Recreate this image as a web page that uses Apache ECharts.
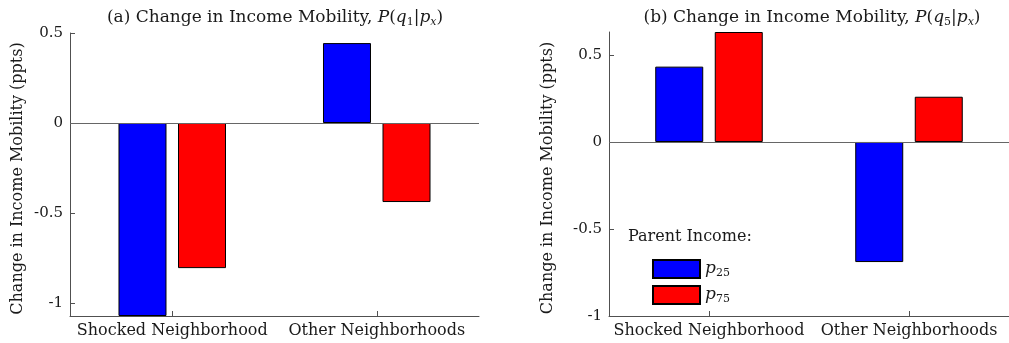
<!DOCTYPE html>
<html>
<head>
<meta charset="utf-8">
<script src="https://cdn.jsdelivr.net/npm/echarts@6/dist/echarts.min.js"></script>
<style>
  html, body { margin: 0; padding: 0; background: #fff; }
  #chart { width: 1009px; height: 343px; }
</style>
</head>
<body>
<div id="chart"></div>
<script>
// Neighborhood groups on the horizontal axis
const categories = ['Shocked Neighborhood', 'Other Neighborhoods'];

// Panel (a): change in P(q1 | px), percentage points
const q1P25 = [-1.072, 0.444];
const q1P75 = [-0.806, -0.439];

// Panel (b): change in P(q5 | px), percentage points
const q5P25 = [0.433, -0.69];
const q5P75 = [0.632, 0.26];

// Vertical axis limits and tick marks
const yRangeA = [-1.072, 0.5];
const yRangeB = [-1, 0.632];
const yTicks = [-1, -0.5, 0, 0.5];

const FONT = '"DejaVu Serif", serif';
const AXIS_COLOR = '#505050';
const TEXT_COLOR = '#1a1a1a';
const BLUE = '#0000ff';
const RED = '#ff0000';

const base = { fontFamily: FONT, fontWeight: 'normal', color: TEXT_COLOR, lineHeight: 24 };
const richMath = {
  t: Object.assign({}, base, { fontSize: 17, verticalAlign: 'middle' }),
  i: Object.assign({}, base, { fontSize: 17, fontStyle: 'italic', verticalAlign: 'middle' }),
  s: Object.assign({}, base, { fontSize: 11, verticalAlign: 'bottom', padding: [0, 0, 2, 0] }),
  si: Object.assign({}, base, { fontSize: 11, fontStyle: 'italic', verticalAlign: 'bottom', padding: [0, 0, 2, 0] })
};

function panelTitle(tag, q) {
  return '{t|(' + tag + ') Change in Income Mobility, }{i|P}{t|(}{i|q}{s|' + q + '}{t||}{i|p}{si|x}{t|)}';
}

function xAxisFor(gridIndex) {
  return {
    type: 'category',
    gridIndex: gridIndex,
    data: categories,
    boundaryGap: true,
    axisLine: { show: true, onZero: false, lineStyle: { color: AXIS_COLOR, width: 1 } },
    axisTick: { show: true, inside: true, length: 5, alignWithLabel: true, lineStyle: { color: AXIS_COLOR } },
    axisLabel: { interval: 0, fontFamily: FONT, fontSize: 16, color: TEXT_COLOR, margin: 7 },
    splitLine: { show: false }
  };
}

function yAxisFor(gridIndex, range, gap) {
  return {
    type: 'value',
    gridIndex: gridIndex,
    min: range[0],
    max: range[1],
    name: 'Change in Income Mobility (ppts)',
    nameLocation: 'middle',
    nameGap: gap,
    nameTextStyle: { fontFamily: FONT, fontSize: 16, fontWeight: 'normal', color: TEXT_COLOR, padding: [0, 8, 0, 0] },
    axisLine: { show: true, lineStyle: { color: AXIS_COLOR, width: 1 } },
    axisTick: { show: true, inside: true, length: 5, customValues: yTicks, lineStyle: { color: AXIS_COLOR } },
    axisLabel: {
      fontFamily: FONT, fontSize: 15, color: TEXT_COLOR, margin: 7,
      customValues: yTicks,
      formatter: v => (v === 0 ? '0' : String(v))
    },
    splitLine: { show: false }
  };
}

function zeroLine() {
  return {
    silent: true,
    symbol: ['none', 'none'],
    label: { show: false },
    lineStyle: { color: '#666', width: 1, type: 'solid' },
    data: [{ yAxis: 0 }]
  };
}

function barSeries(name, data, idx, color, withBaseline) {
  const s = {
    name: name,
    type: 'bar',
    xAxisIndex: idx,
    yAxisIndex: idx,
    data: data,
    barWidth: 48,
    barGap: '24%',
    itemStyle: { color: color, borderColor: '#000', borderWidth: 1 }
  };
  if (withBaseline) s.markLine = zeroLine();
  return s;
}

const chart = echarts.init(document.getElementById('chart'), null, { renderer: 'canvas' });

chart.setOption({
  animation: false,
  backgroundColor: '#fff',
  title: [
    { text: panelTitle('a', '1'), left: 275, top: 6, padding: 0, textAlign: 'center', textStyle: { fontWeight: 'normal', rich: richMath } },
    { text: panelTitle('b', '5'), left: 812, top: 6, padding: 0, textAlign: 'center', textStyle: { fontWeight: 'normal', rich: richMath } },
    { text: 'Parent Income:', left: 628, top: 229, padding: 0, textStyle: { fontFamily: FONT, fontSize: 16, fontWeight: 'normal', color: TEXT_COLOR } }
  ],
  legend: {
    data: ['p25', 'p75'],
    orient: 'vertical',
    left: 652,
    top: 259,
    padding: 0,
    itemWidth: 47,
    itemHeight: 18,
    itemGap: 6,
    icon: 'rect',
    selectedMode: false,
    formatter: name => '{p|p}{s|' + name.slice(1) + '}',
    textStyle: {
      rich: {
        p: { fontFamily: FONT, fontSize: 17, fontStyle: 'italic', color: TEXT_COLOR, lineHeight: 20, verticalAlign: 'middle' },
        s: { fontFamily: FONT, fontSize: 11, color: TEXT_COLOR, lineHeight: 20, verticalAlign: 'bottom' }
      }
    }
  },
  grid: [
    { left: 70, top: 33, width: 409, height: 283, containLabel: false },
    { left: 609, top: 32, width: 409, height: 284, containLabel: false }
  ],
  xAxis: [xAxisFor(0), xAxisFor(1)],
  yAxis: [yAxisFor(0, yRangeA, 44), yAxisFor(1, yRangeB, 53)],
  series: [
    barSeries('p25', q1P25, 0, BLUE, true),
    barSeries('p75', q1P75, 0, RED, false),
    barSeries('p25', q5P25, 1, BLUE, true),
    barSeries('p75', q5P75, 1, RED, false)
  ]
});
</script>
</body>
</html>
